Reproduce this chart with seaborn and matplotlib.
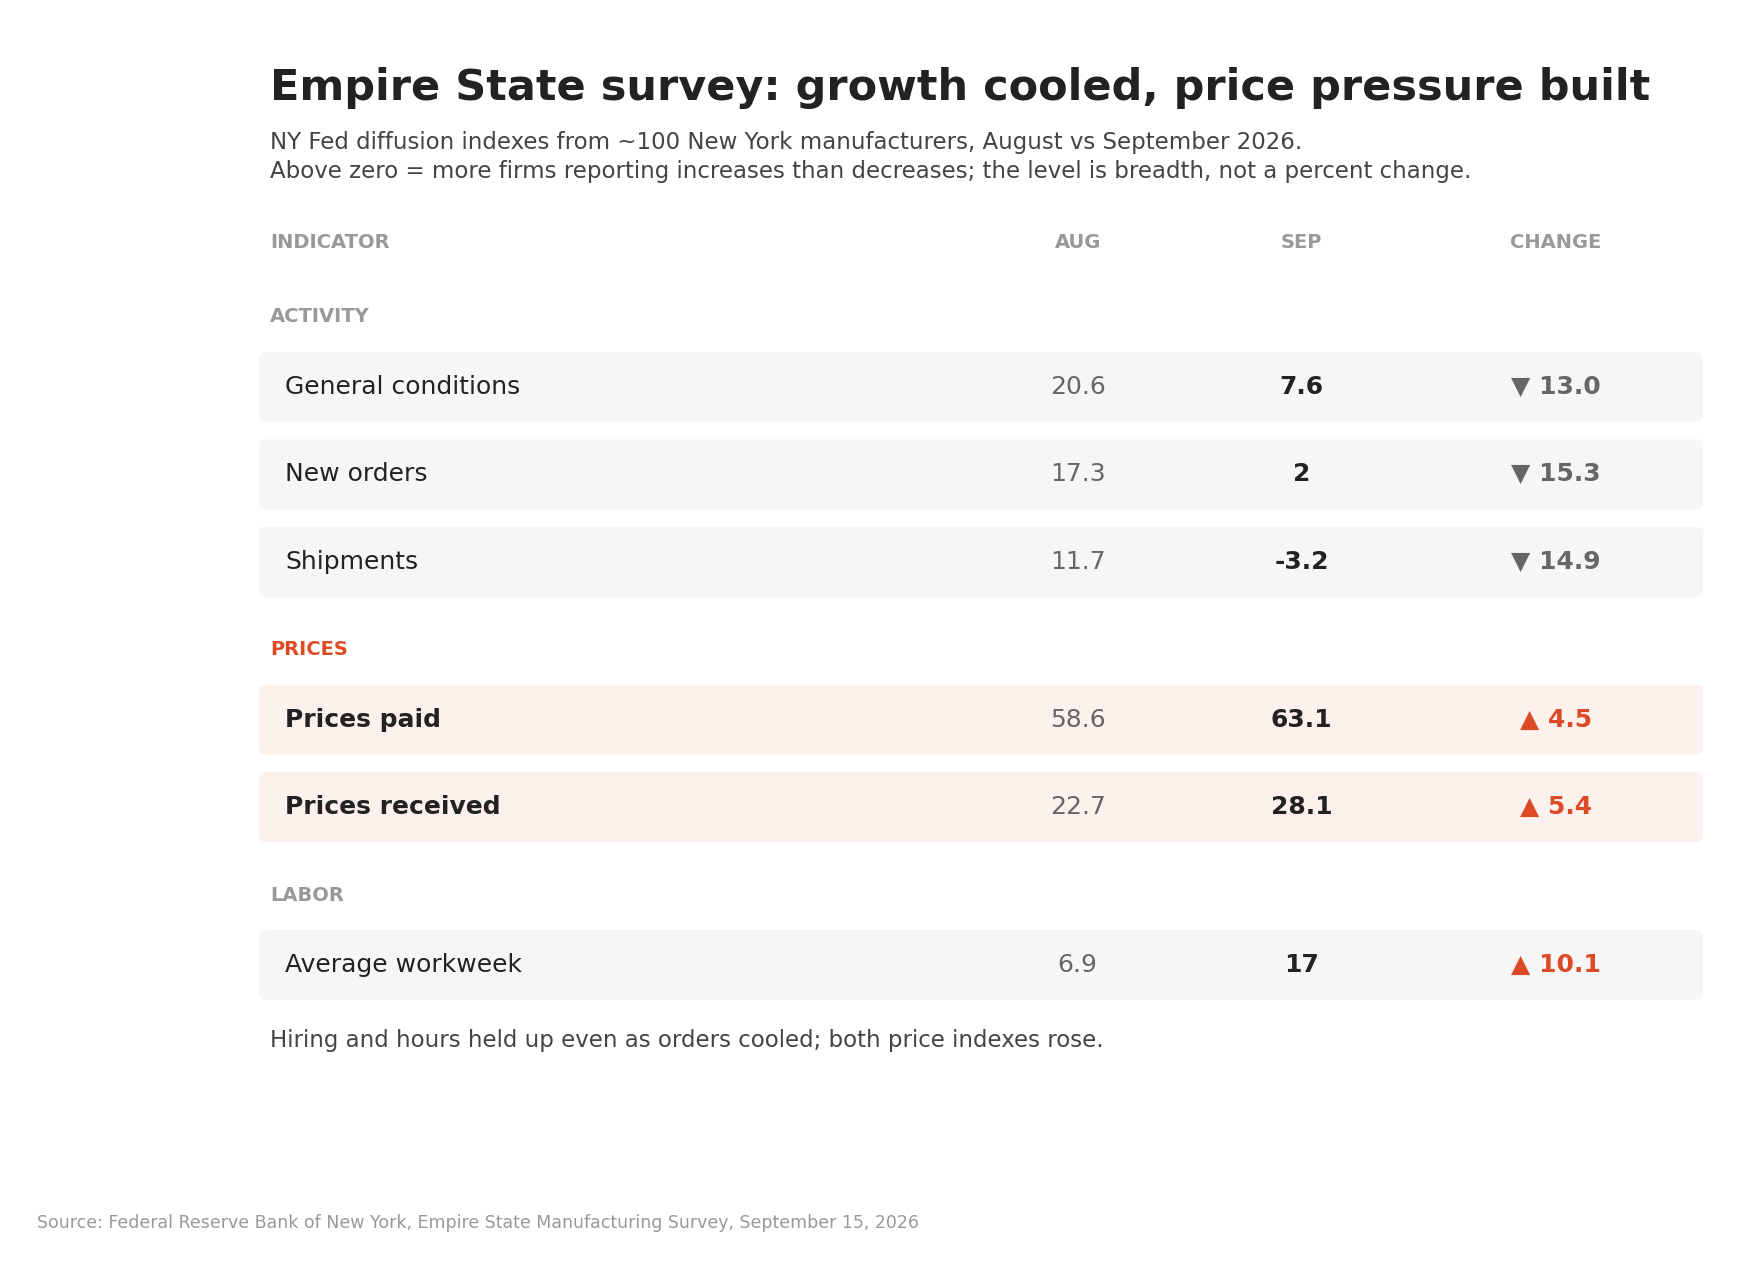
import matplotlib; matplotlib.use('Agg')
import matplotlib.pyplot as plt
from matplotlib.patches import FancyBboxPatch
import seaborn as sns

sns.set_style('white')
plt.rcParams['font.family'] = ['DejaVu Sans']

groups = ['ACTIVITY', 'ACTIVITY', 'ACTIVITY', 'PRICES', 'PRICES', 'LABOR']
indicators = ['General conditions', 'New orders', 'Shipments', 'Prices paid', 'Prices received', 'Average workweek']
aug = [20.6, 17.3, 11.7, 58.6, 22.7, 6.9]
sep = ['7.6', '2', '-3.2', '63.1', '28.1', '17']
change = ['\u25bc 13.0', '\u25bc 15.3', '\u25bc 14.9', '\u25b2 4.5', '\u25b2 5.4', '\u25b2 10.1']
up = [False, False, False, True, True, True]

ORANGE = '#dd4b26'
GREY = '#999999'
DARK = '#222222'

W, H = 1560, 1125
fig = plt.figure(figsize=(17.64, 12.69), dpi=100)
ax = fig.add_axes([0, 0, 1, 1])
ax.set_xlim(0, W); ax.set_ylim(H, 0); ax.axis('off')

X0, XA, XS, XC = 239, 953, 1151, 1376
ax.text(X0, 78, 'Empire State survey: growth cooled, price pressure built', fontsize=31,
        fontweight='bold', color=DARK, va='center')
ax.text(X0, 126, 'NY Fed diffusion indexes from ~100 New York manufacturers, August vs September 2026.',
        fontsize=16.5, color='#444444', va='center')
ax.text(X0, 152, 'Above zero = more firms reporting increases than decreases; the level is breadth, not a percent change.',
        fontsize=16.5, color='#444444', va='center')

for x, t, ha in [(X0, 'INDICATOR', 'left'), (XA, 'AUG', 'center'), (XS, 'SEP', 'center'), (XC, 'CHANGE', 'center')]:
    ax.text(x, 215, t, fontsize=14, fontweight='bold', color=GREY, ha=ha, va='center')

y = 281
prev = None
for i, name in enumerate(indicators):
    g = groups[i]
    if g != prev:
        if prev is not None:
            y += 78
        ax.text(X0, y, g, fontsize=14, fontweight='bold', color=ORANGE if g == 'PRICES' else GREY, va='center')
        y += 62
        prev = g
    else:
        y += 77.5
    hot = g == 'PRICES'
    ax.add_patch(FancyBboxPatch((229, y - 31), 1277, 62, boxstyle='round,pad=0,rounding_size=6',
                                fc='#fcf1ec' if hot else '#f6f6f6', ec='none'))
    ax.text(252, y, name, fontsize=18, color=DARK, va='center', fontweight='bold' if hot else 'normal')
    ax.text(XA, y, f'{aug[i]:.1f}', fontsize=18, color='#666666', ha='center', va='center')
    ax.text(XS, y, sep[i], fontsize=18, color=DARK, ha='center', va='center', fontweight='bold')
    ax.text(XC, y, change[i], fontsize=18, color=ORANGE if up[i] else '#666666', ha='center', va='center',
            fontweight='bold')

ax.text(X0, 922, 'Hiring and hours held up even as orders cooled; both price indexes rose.',
        fontsize=16.5, color='#444444', va='center')
ax.text(33, 1084, 'Source: Federal Reserve Bank of New York, Empire State Manufacturing Survey, September 15, 2026',
        fontsize=12.5, color='#999999', va='center')

fig.savefig('out.png', dpi=100)
